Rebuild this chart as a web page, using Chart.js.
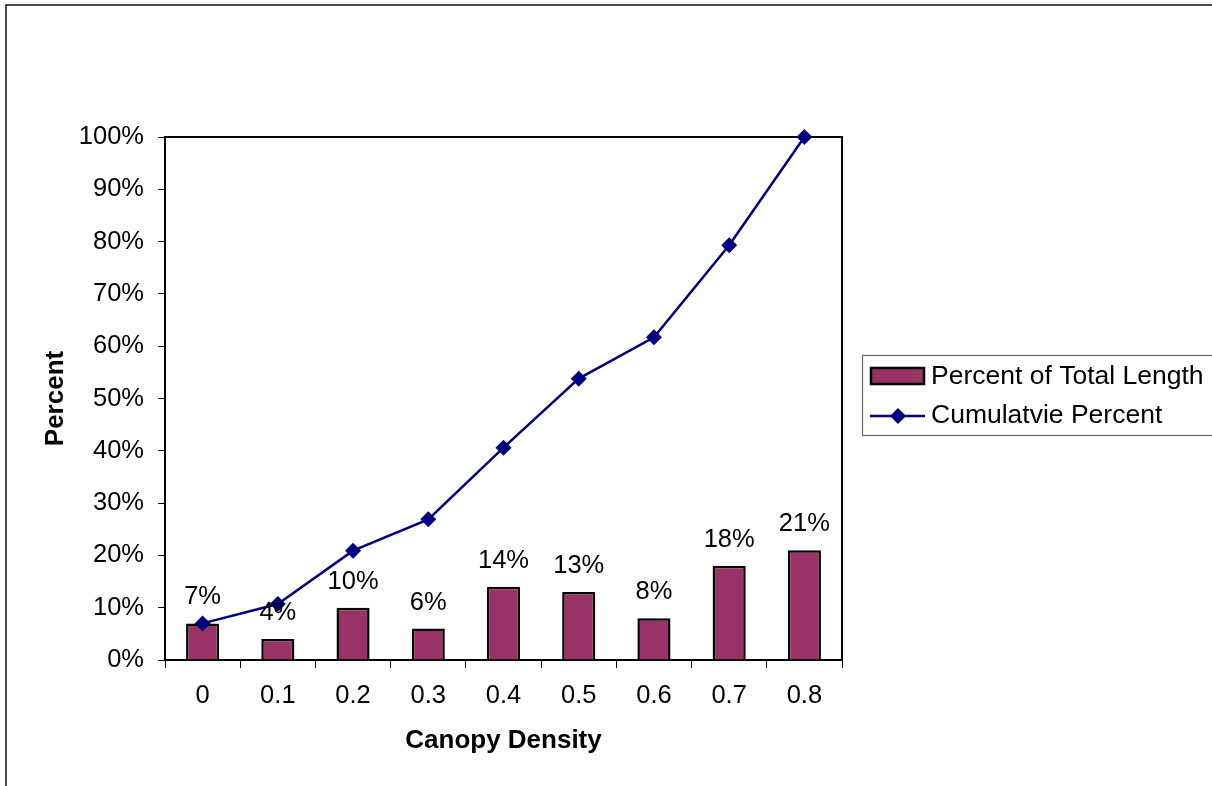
<!DOCTYPE html>
<html>
<head>
<meta charset="utf-8">
<title>Canopy Density</title>
<script src="https://cdn.jsdelivr.net/npm/chart.js@4/dist/chart.umd.min.js"></script>
<style>
  html, body { margin: 0; padding: 0; background: #fff; }
  #wrap { width: 1212px; height: 786px; position: relative; }
</style>
</head>
<body>
<div id="wrap"><canvas id="c" width="1212" height="786"></canvas></div>
<script>
// Canopy density classes and the share of total length in each
const categories = ['0', '0.1', '0.2', '0.3', '0.4', '0.5', '0.6', '0.7', '0.8'];
const percentOfTotalLength = [7, 4, 10, 6, 14, 13, 8, 18, 21];
const cumulativePercent = [7.0, 10.7, 20.9, 26.9, 40.6, 53.8, 61.7, 79.3, 100];
const yTicks = [0, 10, 20, 30, 40, 50, 60, 70, 80, 90, 100];

const FONT = 'Liberation Sans, Arial, Helvetica, sans-serif';
const BAR_FILL = '#993366';
const LINE_COLOR = '#000080';

// Outer frame of the chart sheet
const framePlugin = {
  id: 'frame',
  beforeDraw(chart) {
    const ctx = chart.ctx;
    ctx.save();
    ctx.fillStyle = '#fff';
    ctx.fillRect(0, 0, chart.width, chart.height);
    ctx.strokeStyle = '#111';
    ctx.lineWidth = 1.5;
    ctx.beginPath();
    ctx.moveTo(6, chart.height + 5);
    ctx.lineTo(6, 5);
    ctx.lineTo(chart.width + 5, 5);
    ctx.stroke();
    ctx.restore();
  }
};

// Black box around the plot area
const plotBoxPlugin = {
  id: 'plotBox',
  beforeDatasetsDraw(chart) {
    const {left, top, right, bottom} = chart.chartArea;
    const ctx = chart.ctx;
    ctx.save();
    ctx.strokeStyle = '#000';
    ctx.lineWidth = 2;
    ctx.strokeRect(left, top, right - left, bottom - top);
    ctx.restore();
  }
};

// Percent labels above each bar
const barLabelPlugin = {
  id: 'barLabels',
  afterDatasetsDraw(chart) {
    const ctx = chart.ctx;
    const meta = chart.getDatasetMeta(0);
    const data = chart.data.datasets[0].data;
    ctx.save();
    ctx.font = '25.5px ' + FONT;
    ctx.fillStyle = '#000';
    ctx.textAlign = 'center';
    ctx.textBaseline = 'alphabetic';
    meta.data.forEach((bar, i) => {
      ctx.fillText(data[i] + '%', bar.x, bar.y - 19);
    });
    ctx.restore();
  }
};

// Boxed legend to the right of the plot
const boxLegendPlugin = {
  id: 'boxLegend',
  afterDraw(chart) {
    const ctx = chart.ctx;
    const ds = chart.data.datasets;
    const x0 = 862, y0 = 355, w = 360, h = 80;
    ctx.save();
    ctx.strokeStyle = '#666';
    ctx.lineWidth = 1.2;
    ctx.strokeRect(x0 + 0.5, y0 + 0.5, w, h);

    // bar swatch
    ctx.fillStyle = ds[0].backgroundColor;
    ctx.fillRect(871, 368, 53, 16);
    ctx.strokeStyle = '#000';
    ctx.lineWidth = 2.5;
    ctx.strokeRect(871, 368, 53, 16);

    // line swatch with diamond marker
    const ly = 416;
    ctx.strokeStyle = ds[1].borderColor;
    ctx.lineWidth = 2.5;
    ctx.beginPath();
    ctx.moveTo(870, ly);
    ctx.lineTo(925, ly);
    ctx.stroke();
    ctx.fillStyle = ds[1].pointBackgroundColor;
    ctx.beginPath();
    ctx.moveTo(898, ly - 8);
    ctx.lineTo(906, ly);
    ctx.lineTo(898, ly + 8);
    ctx.lineTo(890, ly);
    ctx.closePath();
    ctx.fill();

    ctx.fillStyle = '#000';
    ctx.font = '26.5px ' + FONT;
    ctx.textAlign = 'left';
    ctx.textBaseline = 'middle';
    ctx.fillText(ds[0].label, 931, 377);
    ctx.fillText(ds[1].label, 931, ly);
    ctx.restore();
  }
};

new Chart(document.getElementById('c'), {
  data: {
    labels: categories,
    datasets: [
      {
        type: 'bar',
        label: 'Percent of Total Length',
        data: percentOfTotalLength,
        backgroundColor: BAR_FILL,
        borderColor: '#000',
        borderWidth: 2.5,
        barPercentage: 0.44,
        categoryPercentage: 1.0,
        order: 2
      },
      {
        type: 'line',
        label: 'Cumulatvie Percent',
        data: cumulativePercent,
        borderColor: LINE_COLOR,
        backgroundColor: LINE_COLOR,
        pointBackgroundColor: LINE_COLOR,
        pointBorderColor: LINE_COLOR,
        pointStyle: 'rectRot',
        pointRadius: 8,
        pointBorderWidth: 0,
        borderWidth: 2.5,
        tension: 0,
        fill: false,
        clip: false,
        order: 1
      }
    ]
  },
  options: {
    responsive: false,
    animation: false,
    devicePixelRatio: 1,
    layout: { padding: { left: 40, top: 137, right: 370, bottom: 30 } },
    plugins: {
      legend: { display: false },
      tooltip: { enabled: false }
    },
    scales: {
      x: {
        type: 'category',
        offset: true,
        border: { display: true, color: '#000', width: 2 },
        grid: {
          offset: true,
          drawOnChartArea: false,
          drawTicks: true,
          tickLength: 8,
          color: '#000',
          lineWidth: 1
        },
        ticks: {
          color: '#000',
          font: { family: FONT, size: 25.5 },
          padding: 13,
          autoSkip: false,
          maxRotation: 0
        },
        title: {
          display: true,
          text: 'Canopy Density',
          color: '#000',
          font: { family: FONT, size: 26, weight: 'bold' },
          padding: { top: 0, bottom: 0 }
        },
        afterFit(scale) { scale.height = 96; }
      },
      y: {
        min: 0,
        max: 100,
        border: { display: true, color: '#000', width: 2 },
        grid: {
          drawOnChartArea: false,
          drawTicks: true,
          tickLength: 7,
          color: '#000',
          lineWidth: 1
        },
        afterBuildTicks(scale) {
          scale.ticks = yTicks.map(v => ({ value: v }));
        },
        ticks: {
          color: '#000',
          font: { family: FONT, size: 25.5 },
          padding: 14,
          callback: v => v + '%'
        },
        title: {
          display: true,
          text: 'Percent',
          color: '#000',
          font: { family: FONT, size: 26, weight: 'bold' },
          padding: { top: 0, bottom: 0 }
        },
        afterFit(scale) { scale.width = 125; }
      }
    }
  },
  plugins: [framePlugin, plotBoxPlugin, barLabelPlugin, boxLegendPlugin]
});
</script>
</body>
</html>
